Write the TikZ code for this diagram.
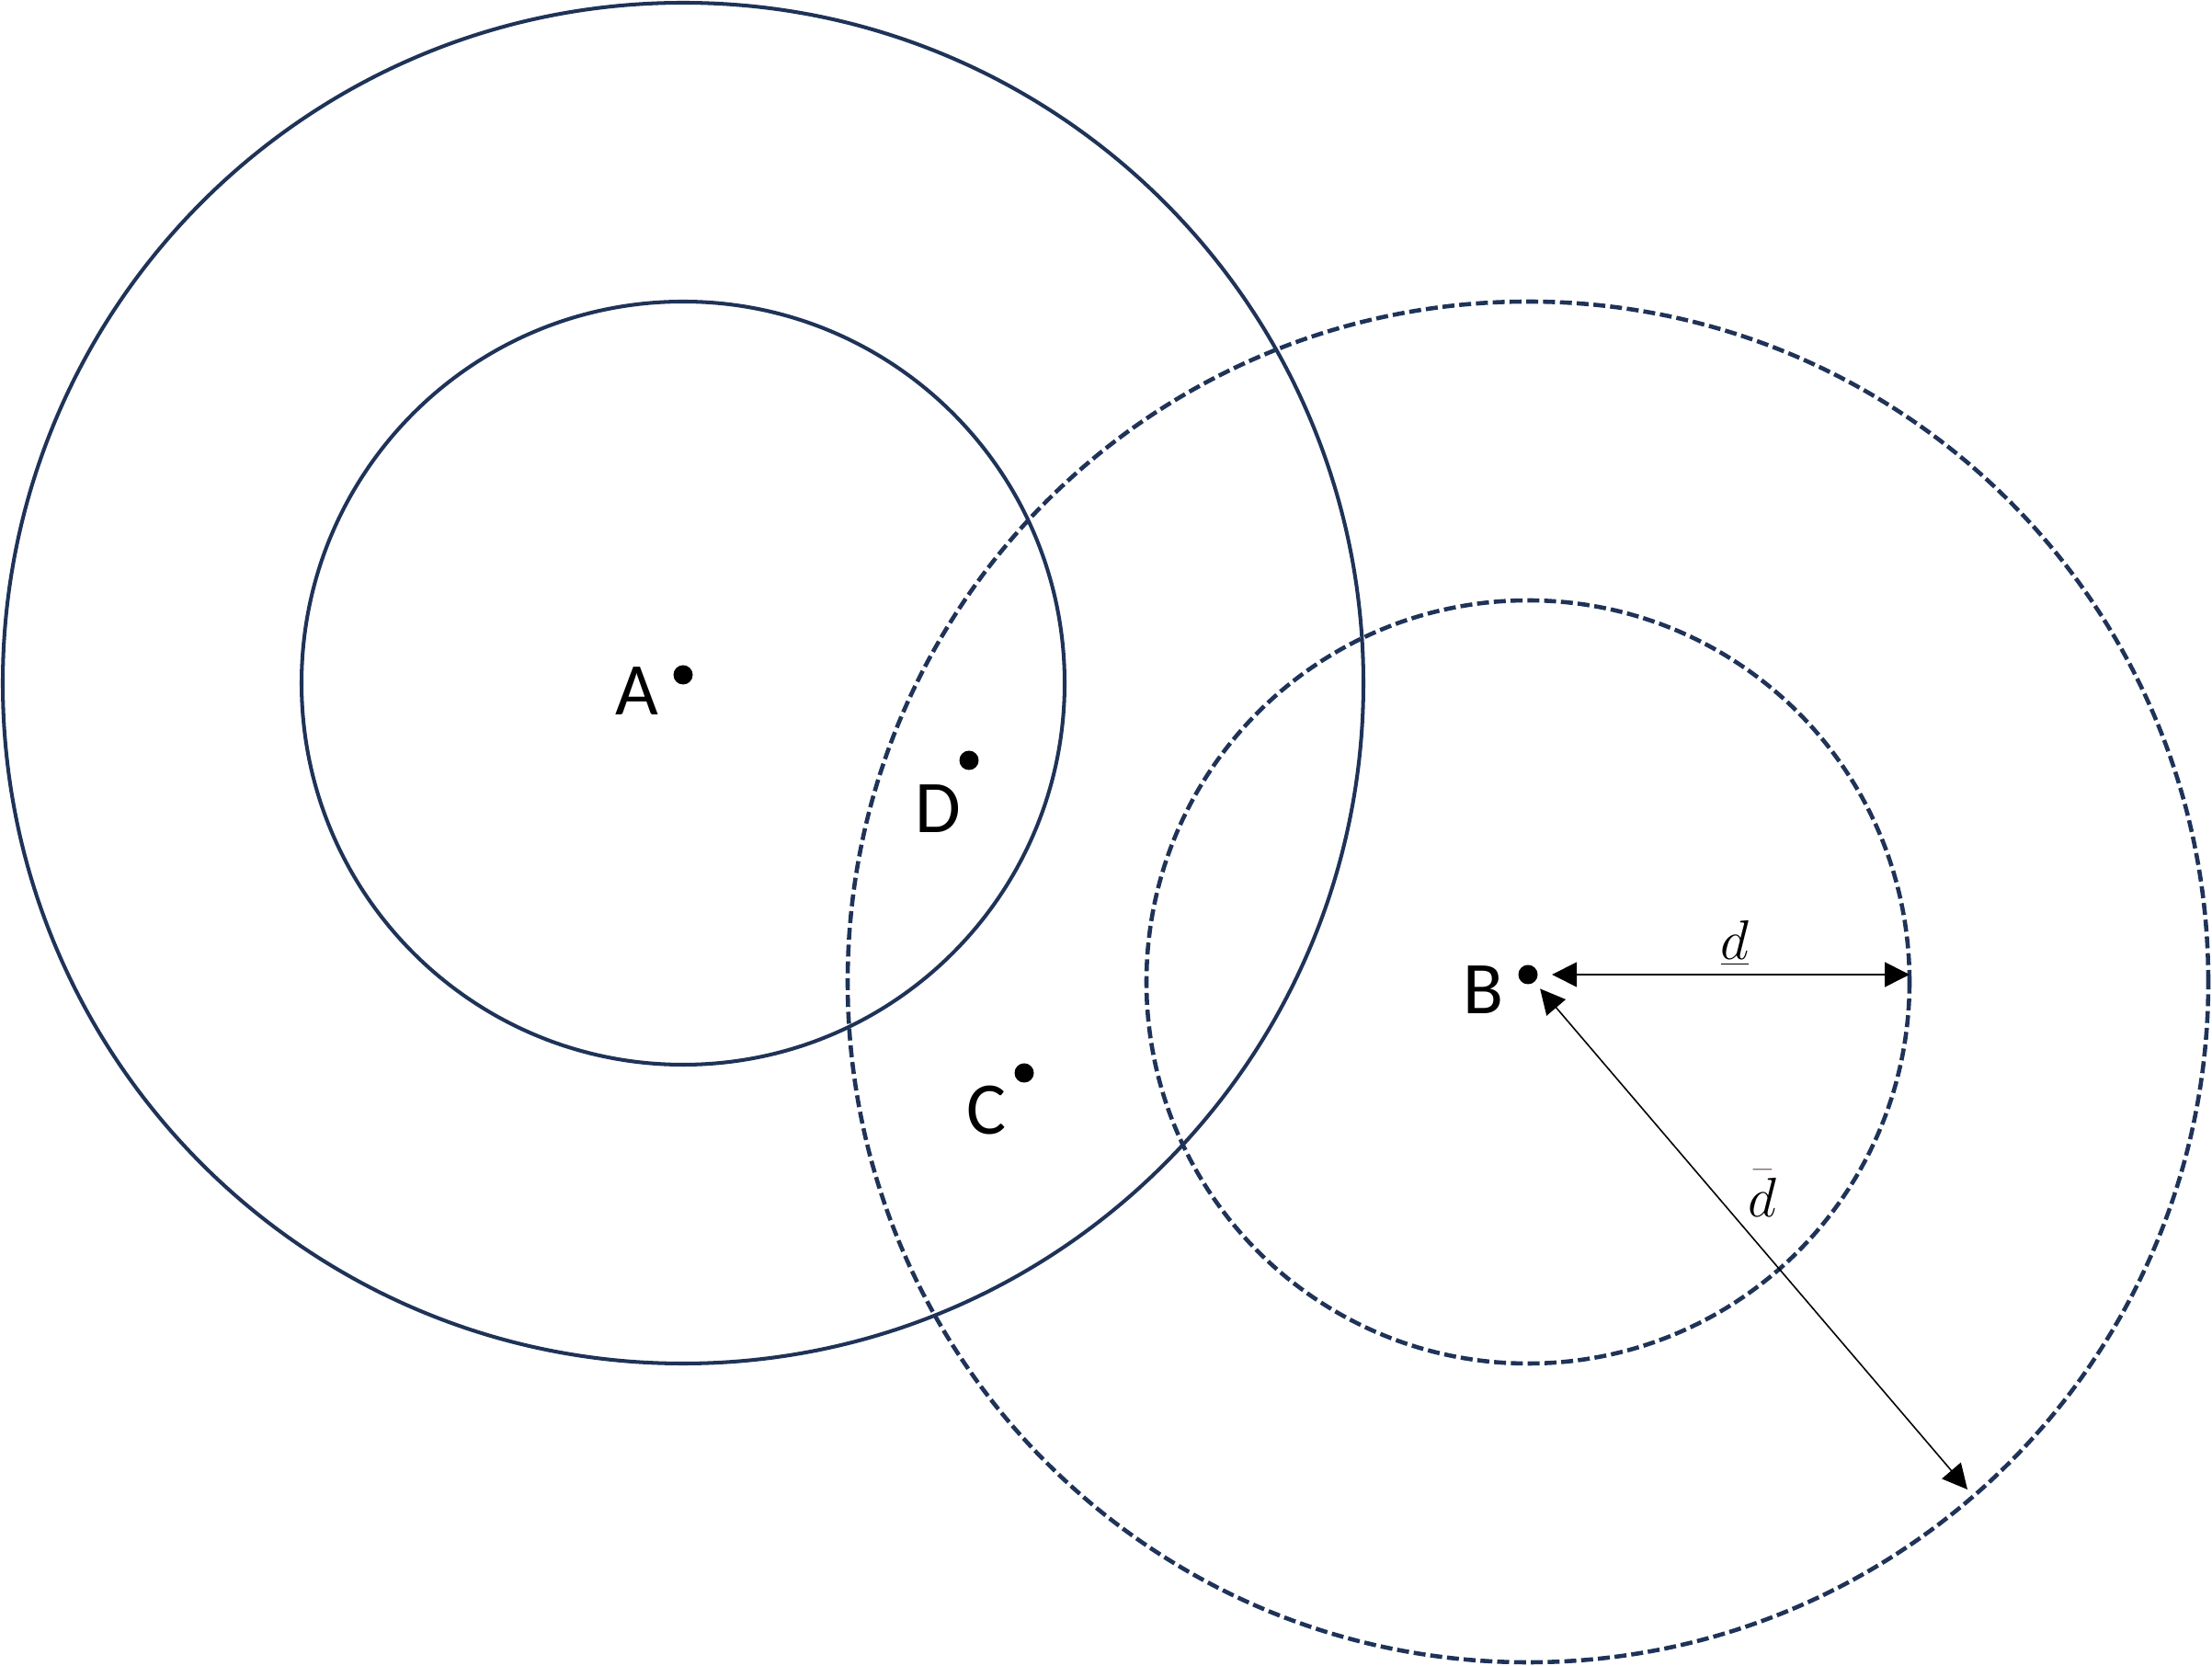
\documentclass[tikz,border=0pt]{standalone}
\usepackage{fontspec}
\setmainfont{Carlito}
\usetikzlibrary{arrows.meta}
\definecolor{ring}{HTML}{1F3358}
\definecolor{barcol}{HTML}{7F6F6F}

\begin{document}
\begin{tikzpicture}[>={Triangle[length=2.7mm,width=2.7mm]}, thin, ring line/.style={draw=ring, line width=1.15pt}, dashed ring/.style={ring line, line width=1.3pt, dash pattern=on 3.7pt off 1.5pt}, point/.style={circle, fill=black, inner sep=0pt, minimum size=2.1mm}, point label/.style={font=\fontsize{23}{27}\selectfont, inner sep=0pt}, dist label/.style={font=\fontsize{17}{20}\selectfont, inner sep=0pt}]

  \useasboundingbox (0,0) rectangle (24.06,18.12);

  \coordinate (Ac) at (7.43,10.69);
  \coordinate (Bc) at (16.62,7.44);

  \draw[ring line] (Ac) circle (7.40);
  \draw[ring line] (Ac) circle (4.15);
  \draw[dashed ring] (Bc) circle (7.40);
  \draw[dashed ring] (Bc) circle (4.15);

  \node[point] (A) at (7.43,10.78) {};
  \node[point] (B) at (16.62,7.52) {};
  \node[point] (C) at (11.14,6.45) {};
  \node[point] (D) at (10.54,9.85) {};

  \node[point label] (A label) at (6.93,10.60) {A};
  \node[point label] (B label) at (16.13,7.35) {B};
  \node[point label] (C label) at (10.73,6.04) {C};
  \node[point label] (D label) at (10.20,9.32) {D};

  \coordinate (inner end) at (20.77,7.52);
  \coordinate (outer end) at (21.40,1.92);

  \path[<->, line width=0.45pt]
       (B) edge[shorten <=1.5mm] (inner end)
       (B) edge[shorten <=0.9mm] (outer end);

  \node[dist label] (d low) at (18.87,7.86) {$\underline{d}$};
  \node[dist label] (d high) at (19.17,5.14) {\color{barcol}$\bar{\textcolor{black}{d}}$};
\end{tikzpicture}
\end{document}
